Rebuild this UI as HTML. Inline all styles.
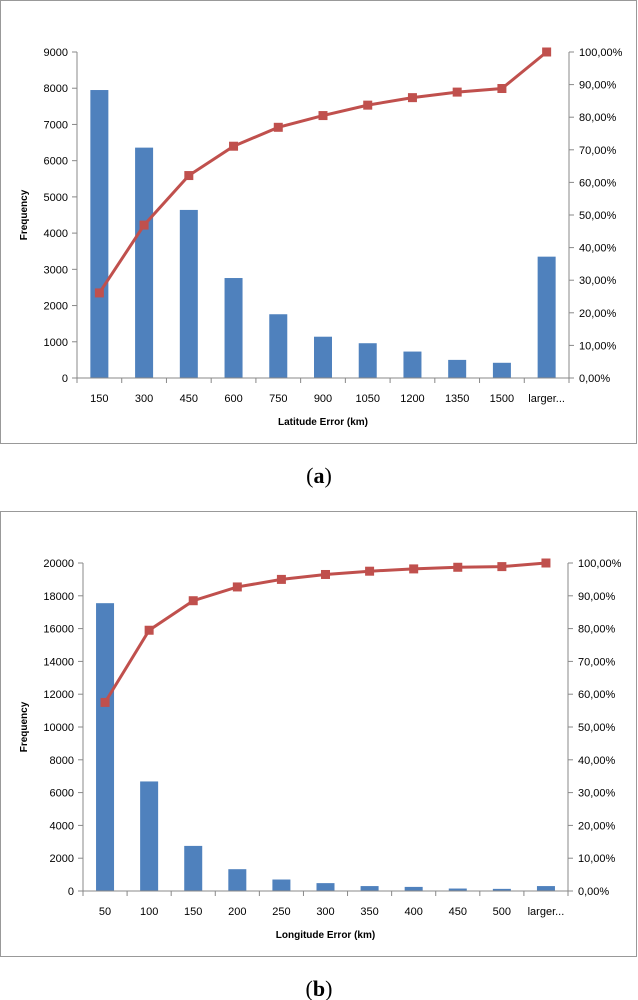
<!DOCTYPE html>
<html><head><meta charset="utf-8">
<style>
body{margin:0;background:#fff;width:638px;height:1000px;overflow:hidden}
svg{display:block}
text{font-family:"Liberation Sans",sans-serif;fill:#000}
.tk{font-size:11px}
.tt{font-size:10px;font-weight:bold}
.cap{font-family:"Liberation Serif",serif;font-size:22px}
</style></head>
<body>
<svg id="s" width="638" height="1000" xmlns="http://www.w3.org/2000/svg">
<rect x="0.5" y="0.5" width="636" height="443" fill="#fff" stroke="#999"/>
<rect x="0.5" y="511.5" width="636" height="445" fill="#fff" stroke="#999"/>
<text class="cap" x="319" y="483" text-anchor="middle">(<tspan font-weight="bold">a</tspan>)</text>
<text class="cap" x="319" y="996" text-anchor="middle">(<tspan font-weight="bold">b</tspan>)</text>
</svg>
<script>
const catsA=["150","300","450","600","750","900","1050","1200","1350","1500","larger..."];
const freqA=[7950,6360,4640,2760,1760,1140,960,730,500,420,3350];
const cumA=[26.1,46.9,62.1,71.1,76.9,80.5,83.7,86,87.7,88.8,100];
const leftTicksA=[0,1000,2000,3000,4000,5000,6000,7000,8000,9000];
const catsB=["50","100","150","200","250","300","350","400","450","500","larger..."];
const freqB=[17550,6680,2750,1330,700,480,300,250,150,130,300];
const cumB=[57.5,79.5,88.5,92.7,95,96.5,97.5,98.2,98.7,98.9,100];
const leftTicksB=[0,2000,4000,6000,8000,10000,12000,14000,16000,18000,20000];
const pctTicks=[0,10,20,30,40,50,60,70,80,90,100];
const svg=document.getElementById('s');
const NS='http://www.w3.org/2000/svg';
function mk(tag,attrs,parent){const e=document.createElementNS(NS,tag);for(const k in attrs)e.setAttribute(k,attrs[k]);(parent||svg).appendChild(e);return e;}
function chart(id,cats,freq,cum,lt,cfg){
  const g=mk('g',{});
  
  
  const {x0,x1,y0,y1,max,labY,titleY,title,fy}=cfg;
  const bw=(x1-x0)/cats.length;
  const X=i=>x0+bw*(i+0.5);
  const Y=v=>y0-(v/max)*(y0-y1);
  const P=p=>y0-(p/100)*(y0-y1);
  // axes
  let a=mk('line',{x1:x0,y1:y1,x2:x0,y2:y0,stroke:'#888'},g);
  
  a=mk('line',{x1:x1,y1:y1,x2:x1,y2:y0,stroke:'#888'},g);
  
  lt.forEach(v=>{
    mk('line',{x1:x0-5,x2:x0,y1:Y(v),y2:Y(v),stroke:'#888'},g);
    const t=mk('text',{x:x0-9,y:Y(v)+4,'text-anchor':'end',class:'tk'},g);
    
    
    t.textContent=v;
  });
  pctTicks.forEach(p=>{
    mk('line',{x1:x1,x2:x1+5,y1:P(p),y2:P(p),stroke:'#888'},g);
    const t=mk('text',{x:x1+10,y:P(p)+4,class:'tk'},g);
    
    
    t.textContent=p.toFixed(2).replace('.',',')+'%';
  });
  for(let i=0;i<=cats.length;i++){mk('line',{x1:x0+bw*i,x2:x0+bw*i,y1:y0,y2:y0+5,stroke:'#888'},g);}
  cats.forEach((c,i)=>{
    const b=mk('rect',{x:X(i)-9,y:Y(freq[i]),width:18,height:y0-Y(freq[i]),fill:'#4f81bd'},g);
    
    
    const t=mk('text',{x:X(i),y:labY,'text-anchor':'middle',class:'tk'},g);
    
    
    t.textContent=c;
  });
  mk('line',{x1:x0,x2:x1,y1:y0,y2:y0,stroke:'#888'},g);
  const pl=mk('polyline',{points:cum.map((p,i)=>X(i)+','+P(p)).join(' '),fill:'none',stroke:'#c0504d','stroke-width':3},g);
  
  
  cum.forEach((p,i)=>{
    const m=mk('rect',{x:X(i)-4.5,y:P(p)-4.5,width:9,height:9,fill:'#c0504d'},g);
    
    
  });
  let t=mk('text',{x:(x0+x1)/2,y:titleY,'text-anchor':'middle',class:'tt'},g);
  
  t.textContent=title;
  t=mk('text',{x:0,y:0,'text-anchor':'middle',class:'tt',transform:'translate(27,'+fy+') rotate(-90)'},g);
  
  t.textContent='Frequency';
}
chart('chart-latitude',catsA,freqA,cumA,leftTicksA,{x0:77,x1:569,y0:378,y1:52,max:9000,labY:402,titleY:425,title:'Latitude Error (km)',fy:215});
chart('chart-longitude',catsB,freqB,cumB,leftTicksB,{x0:83,x1:568,y0:891,y1:563,max:20000,labY:915,titleY:938,title:'Longitude Error (km)',fy:727});
</script>
</body></html>
